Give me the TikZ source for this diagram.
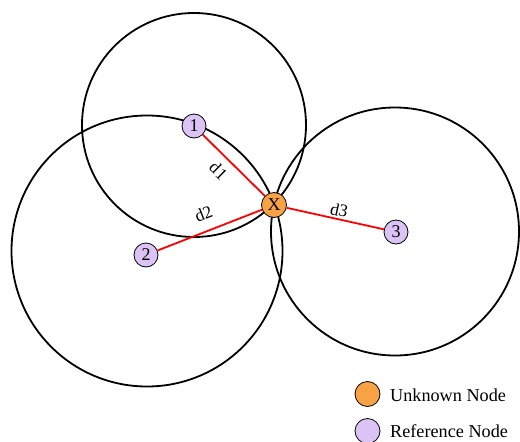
\documentclass[tikz,border=0pt]{standalone}
\usepackage{fontspec}
\setmainfont{Liberation Serif}
\usetikzlibrary{calc}
\definecolor{unknownfill}{HTML}{F7A244}
\definecolor{reffill}{HTML}{DCC3F5}
\tikzset{
  refnode/.style={circle,draw=black,line width=0.8pt,fill=reffill,minimum size=24pt,inner sep=0pt,font=\fontsize{18}{18}\selectfont},
  unknode/.style={circle,draw=black,line width=0.8pt,fill=unknownfill,minimum size=25pt,inner sep=0pt,font=\fontsize{18}{18}\selectfont},
  rangecircle/.style={draw=black,line width=1.8pt},
  dist/.style={draw=red,line width=1.8pt},
  distlabel/.style={font=\fontsize{17.5}{17.5}\selectfont,sloped,inner sep=0pt},
  legendtext/.style={anchor=west,font=\fontsize{18.2}{18.2}\selectfont,inner sep=0pt}
}
\begin{document}
\begin{tikzpicture}[x=1pt,y=-1pt]
\useasboundingbox (0,0) rectangle (520,442);
% anchor positions
\coordinate (c1) at (194,125);
\coordinate (c2) at (147,251);
\coordinate (c3) at (395,231.5);
% range circles around each reference node
\draw[rangecircle] (c1) circle (112);
\draw[rangecircle] (c2) circle (135.5);
\draw[rangecircle] (c3) circle (124);
% nodes
\node[unknode] (X) at (274,205) {X};
\node[refnode] (n1) at (194,126) {1};
\node[refnode] (n2) at (146,255) {2};
\node[refnode] (n3) at (396,232) {3};
% distance lines
\draw[dist] (n1) -- node[distlabel,below=7.5pt,pos=0.42] {d1} (X);
\draw[dist] (n2) -- node[distlabel,above=10pt,pos=0.5] {d2} (X);
\draw[dist] (X) -- node[distlabel,above=2pt,pos=0.52] {d3} (n3);
% legend
\node[unknode] (lu) at (367.5,394) {};
\node[legendtext] (lut) at (390,395) {Unknown Node};
\node[refnode,minimum size=25pt] (lr) at (367.5,431) {};
\node[legendtext] (lrt) at (390,431) {Reference Node};
\end{tikzpicture}
\end{document}
